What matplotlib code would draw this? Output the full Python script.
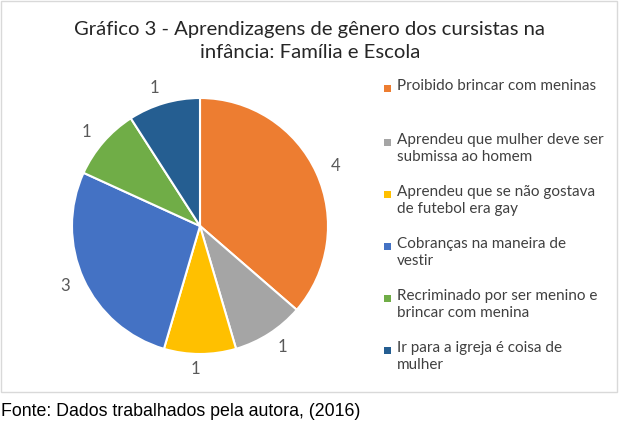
import matplotlib
matplotlib.use("Agg")
import matplotlib.pyplot as plt
from matplotlib.patches import Rectangle

# data
categories = [
    "Proibido brincar com meninas",
    "Aprendeu que mulher deve ser\nsubmissa ao homem",
    "Aprendeu que se não gostava\nde futebol era gay",
    "Cobranças na maneira de\nvestir",
    "Recriminado por ser menino e\nbrincar com menina",
    "Ir para a igreja é coisa de\nmulher",
]
values = [4, 1, 1, 3, 1, 1]
colors = ["#ED7D31", "#A5A5A5", "#FFC000", "#4472C4", "#70AD47", "#255E91"]

W, H = 626, 421
fig = plt.figure(figsize=(W / 100, H / 100), dpi=100)
fig.patch.set_facecolor("white")

# chart frame
fig.patches.append(Rectangle((1 / W, 1 - 392 / H), 616 / W, 391 / H,
                             transform=fig.transFigure, fill=False,
                             edgecolor="#D9D9D9", linewidth=1))

# title
fig.text(310 / W, 1 - 30 / H, "Gráfico 3 - Aprendizagens de gênero dos cursistas na",
         ha="center", va="center", fontsize=14.6, family="Lato", color="#262626")
fig.text(310 / W, 1 - 52 / H, "infância: Família e Escola",
         ha="center", va="center", fontsize=14.6, family="Lato", color="#262626")

# pie
cx, cy, r = 200, 226, 128
ax = fig.add_axes([(cx - r) / W, (H - cy - r) / H, 2 * r / W, 2 * r / H])
ax.pie(values, colors=colors, labels=[str(v) for v in values],
       startangle=90, counterclock=False, labeldistance=1.12,
       wedgeprops=dict(edgecolor="white", linewidth=1.5),
       textprops=dict(fontsize=12, family="Lato", color="#595959"))
ax.set_xlim(-1, 1)
ax.set_ylim(-1, 1)
ax.set_aspect("auto")
ax.axis("off")

# legend
legend_y = [88, 142, 194, 246, 298, 350]
for label, color, y in zip(categories, colors, legend_y):
    fig.patches.append(Rectangle((384 / W, 1 - (y + 4) / H), 7 / W, 7 / H,
                                 transform=fig.transFigure, facecolor=color,
                                 edgecolor="none"))
    fig.text(397 / W, 1 - (y - 9) / H, label, ha="left", va="top",
             fontsize=11, family="Lato", color="#404040", linespacing=1.3)

# source
fig.text(1 / W, 1 - 411 / H, "Fonte: Dados trabalhados pela autora, (2016)",
         ha="left", va="center", fontsize=12.8, family="Liberation Sans", color="#000000")

fig.savefig("out.png", dpi=100)
